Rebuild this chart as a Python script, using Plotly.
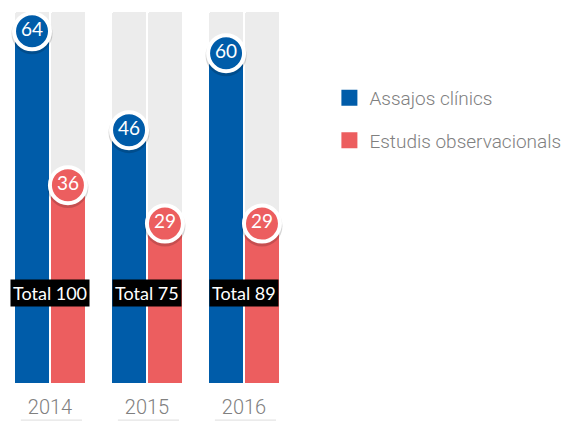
import plotly.graph_objects as go

years = ["2014", "2015", "2016"]
assajos = [64, 46, 60]
estudis = [36, 29, 29]
totals = [100, 75, 89]
track_max = 67.5

series_names = ["Assajos clínics", "Estudis observacionals"]
BLUE = "#005CA9"
RED = "#EC5E5F"
GRAY = "#ECECEC"

idx = list(range(len(years)))
W, OFF = 0.35, 0.185
x_blue = [i - OFF for i in idx]
x_red = [i + OFF for i in idx]

fig = go.Figure()
# background tracks
for xs in (x_blue, x_red):
    fig.add_trace(go.Bar(x=xs, y=[track_max] * len(years), width=W,
                         marker=dict(color=GRAY, line=dict(width=0)),
                         showlegend=False, hoverinfo="skip"))
fig.add_trace(go.Bar(x=x_blue, y=assajos, width=W, marker=dict(color=BLUE, line=dict(width=0)),
                     name=series_names[0], showlegend=False))
fig.add_trace(go.Bar(x=x_red, y=estudis, width=W, marker=dict(color=RED, line=dict(width=0)),
                     name=series_names[1], showlegend=False))

# circle labels with shadow
for xs, vals, col in ((x_blue, assajos, BLUE), (x_red, estudis, RED)):
    fig.add_trace(go.Scatter(x=xs, y=[v - 0.45 for v in vals], mode="markers",
                             marker=dict(size=41, color="rgba(0,0,0,0.16)", line=dict(width=0)),
                             showlegend=False, hoverinfo="skip"))
    fig.add_trace(go.Scatter(x=xs, y=vals, mode="markers+text", text=[str(v) for v in vals],
                             textposition="middle center",
                             textfont=dict(family="Lato", size=19, color="white"),
                             marker=dict(size=36, color=col, line=dict(width=4, color="white")),
                             showlegend=False, hoverinfo="skip"))

# legend entries
for nm, col, grp in ((series_names[0], BLUE, "a"), (series_names[1], RED, "b")):
    fig.add_trace(go.Scatter(x=[None], y=[None], mode="markers", name=nm, legendgroup=grp,
                             marker=dict(symbol="square", size=16, color=col)))

# totals
for i, t in zip(idx, totals):
    fig.add_annotation(x=i, y=16.4, xref="x", yref="y", text=f"Total {t}", showarrow=False,
                       bgcolor="black", borderpad=2,
                       font=dict(family="Lato", size=18, color="white"))

# underline below years
for i in idx:
    fig.add_shape(type="line", xref="x", yref="paper", x0=i - 0.3, x1=i + 0.33,
                  y0=-0.1, y1=-0.1, line=dict(color="#DDDDDD", width=1))

fig.update_layout(
    width=562, height=421,
    margin=dict(l=0, r=262, t=12, b=38, autoexpand=False),
    barmode="overlay",
    bargap=0,
    barcornerradius=2,
    plot_bgcolor="white", paper_bgcolor="white",
    xaxis=dict(range=[-0.515, 2.577], tickvals=idx, ticktext=years, showgrid=False,
               zeroline=False, showline=False, ticks="", ticklabelstandoff=10,
               tickfont=dict(family="Roboto", size=20, color="#808080", weight=300),
               fixedrange=True),
    yaxis=dict(range=[0, track_max], visible=False, fixedrange=True),
    legend=dict(x=1.098, y=0.82, xanchor="left", yanchor="top", tracegroupgap=15,
                font=dict(family="Roboto", size=19, color="#808080", weight=300),
                itemwidth=30, bgcolor="rgba(0,0,0,0)"),
    showlegend=True,
)

fig.write_html("out.html", config={"displayModeBar": False},
               post_script="document.body.style.margin='0';document.body.style.overflow='hidden';")
